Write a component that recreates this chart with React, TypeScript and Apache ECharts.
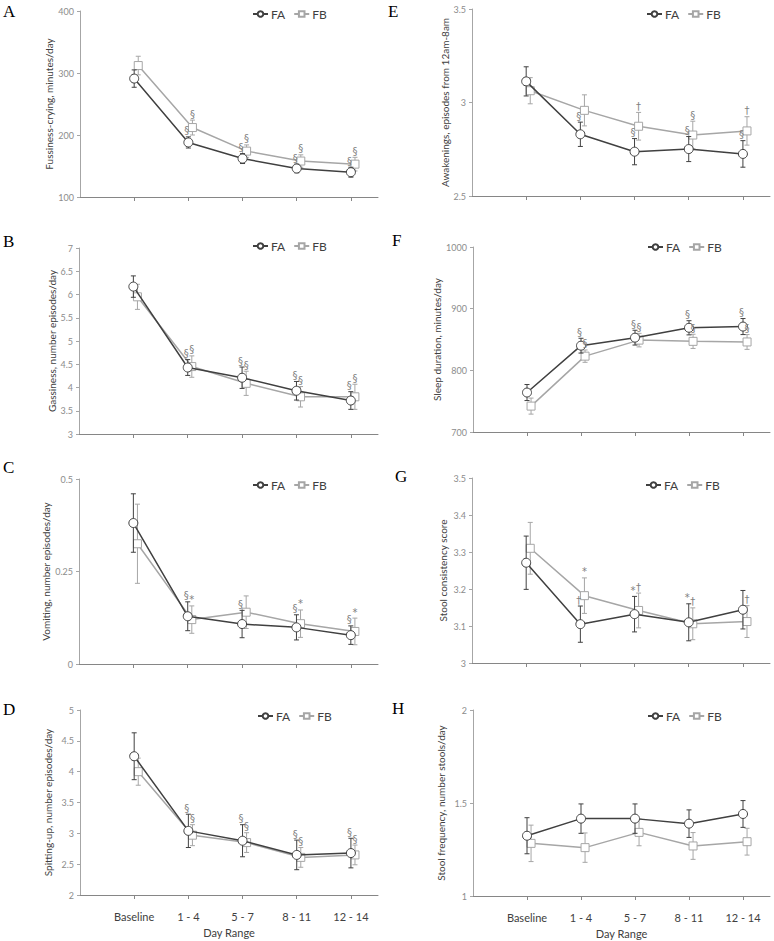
import React, { useEffect, useRef } from 'react';
import * as echarts from 'echarts';

// ---------- data ----------
const categories = ['Baseline', '1 - 4', '5 - 7', '8 - 11', '12 - 14'];
const seriesNames = ['FA', 'FB'];

// A: Fussiness-crying
const aFA = [291, 188, 162, 146, 140];
const aFAerr = [14, 9, 8, 7, 8];
const aFB = [312, 212, 174, 158, 153];
const aFBerr = [15, 12, 10, 10, 11];
const aNotes = [[1, 0, '§'], [1, 1, '§'], [2, 0, '§'], [2, 1, '§'], [3, 0, '§'], [3, 1, '§'], [4, 0, '§'], [4, 1, '§']];

// B: Gassiness
const bFA = [6.17, 4.43, 4.21, 3.93, 3.72];
const bFAerr = [0.23, 0.17, 0.23, 0.2, 0.19];
const bFB = [5.95, 4.45, 4.09, 3.8, 3.8];
const bFBerr = [0.27, 0.23, 0.26, 0.22, 0.27];
const bNotes = [[1, 0, '§'], [1, 1, '§'], [2, 0, '§'], [2, 1, '§'], [3, 0, '§'], [3, 1, '§'], [4, 0, '§'], [4, 1, '§']];

// C: Vomiting
const cFA = [0.381, 0.129, 0.108, 0.099, 0.078];
const cFAerr = [0.079, 0.039, 0.037, 0.034, 0.025];
const cFB = [0.325, 0.12, 0.14, 0.109, 0.088];
const cFBerr = [0.107, 0.037, 0.044, 0.037, 0.036];
const cNotes = [[1, 0, '§'], [1, 1, '*'], [2, 0, '§'], [3, 0, '§'], [3, 1, '*'], [4, 0, '§'], [4, 1, '*']];

// D: Spitting-up
const dFA = [4.25, 3.04, 2.88, 2.65, 2.68];
const dFAerr = [0.38, 0.27, 0.26, 0.24, 0.24];
const dFB = [4.0, 2.97, 2.85, 2.61, 2.65];
const dFBerr = [0.22, 0.17, 0.16, 0.16, 0.16];
const dNotes = [[1, 0, '§'], [1, 1, '§'], [2, 0, '§'], [2, 1, '§'], [3, 0, '§'], [3, 1, '§'], [4, 0, '§'], [4, 1, '§']];

// E: Awakenings
const eFA = [3.113, 2.83, 2.737, 2.751, 2.725];
const eFAerr = [0.078, 0.065, 0.07, 0.067, 0.071];
const eFB = [3.063, 2.958, 2.873, 2.826, 2.848];
const eFBerr = [0.07, 0.083, 0.074, 0.074, 0.076];
const eNotes = [[1, 0, '§'], [2, 0, '§'], [2, 1, '†'], [3, 0, '§'], [3, 1, '§'], [4, 0, '§'], [4, 1, '†']];

// F: Sleep duration
const fFA = [764, 840, 853, 869, 871];
const fFAerr = [13, 12, 12, 11.5, 13];
const fFB = [742, 823, 849, 847, 846];
const fFBerr = [13, 10, 11, 11.5, 12];
const fNotes = [[1, 0, '§'], [1, 1, '§'], [2, 0, '§'], [2, 1, '§'], [3, 0, '§'], [3, 1, '§'], [4, 0, '§'], [4, 1, '§']];

// G: Stool consistency
const gFA = [3.271, 3.105, 3.132, 3.11, 3.144];
const gFAerr = [0.072, 0.049, 0.048, 0.05, 0.052];
const gFB = [3.31, 3.182, 3.142, 3.106, 3.112];
const gFBerr = [0.07, 0.048, 0.047, 0.043, 0.043];
const gNotes = [[1, 0, '†'], [1, 1, '*'], [2, 0, '*'], [2, 1, '†'], [3, 0, '*'], [3, 1, '†'], [4, 1, '†']];

// H: Stool frequency
const hFA = [1.324, 1.416, 1.416, 1.389, 1.441];
const hFAerr = [0.097, 0.079, 0.079, 0.074, 0.072];
const hFB = [1.283, 1.26, 1.342, 1.269, 1.292];
const hFBerr = [0.098, 0.079, 0.072, 0.072, 0.072];
const hNotes: any[] = [];

const panels = [
  { letter: 'A', title: 'Fussiness-crying, minutes/day', min: 100, max: 400, interval: 100, fa: aFA, faErr: aFAerr, fb: aFB, fbErr: aFBerr, notes: aNotes, bottom: false },
  { letter: 'B', title: 'Gassiness, number episodes/day', min: 3, max: 7, interval: 0.5, fa: bFA, faErr: bFAerr, fb: bFB, fbErr: bFBerr, notes: bNotes, bottom: false },
  { letter: 'C', title: 'Vomiting, number episodes/day', min: 0, max: 0.5, interval: 0.25, fa: cFA, faErr: cFAerr, fb: cFB, fbErr: cFBerr, notes: cNotes, bottom: false },
  { letter: 'D', title: 'Spitting-up, number episodes/day', min: 2, max: 5, interval: 0.5, fa: dFA, faErr: dFAerr, fb: dFB, fbErr: dFBerr, notes: dNotes, bottom: true },
  { letter: 'E', title: 'Awakenings, episodes from 12am-8am', min: 2.5, max: 3.5, interval: 0.5, fa: eFA, faErr: eFAerr, fb: eFB, fbErr: eFBerr, notes: eNotes, bottom: false },
  { letter: 'F', title: 'Sleep duration, minutes/day', min: 700, max: 1000, interval: 100, fa: fFA, faErr: fFAerr, fb: fFB, fbErr: fFBerr, notes: fNotes, bottom: false },
  { letter: 'G', title: 'Stool consistency score', min: 3, max: 3.5, interval: 0.1, fa: gFA, faErr: gFAerr, fb: gFB, fbErr: gFBerr, notes: gNotes, bottom: false },
  { letter: 'H', title: 'Stool frequency, number stools/day', min: 1, max: 2, interval: 0.5, fa: hFA, faErr: hFAerr, fb: hFB, fbErr: hFBerr, notes: hNotes, bottom: true },
];

// ---------- layout (pixels) ----------
const layout = [
  { left: 80, top: 11, width: 298, height: 186, nameGap: 25, legendLeft: 252, legendY: 15, letterX: 3, letterY: 12 },
  { left: 79, top: 248, width: 299, height: 186, nameGap: 22, legendLeft: 252, legendY: 247, letterX: 3, letterY: 242 },
  { left: 79, top: 479, width: 299, height: 185, nameGap: 28, legendLeft: 252, legendY: 486, letterX: 3, letterY: 468 },
  { left: 80, top: 710, width: 298, height: 185, nameGap: 27, legendLeft: 257, legendY: 717, letterX: 3, letterY: 710 },
  { left: 472, top: 9, width: 298, height: 187, nameGap: 21, legendLeft: 646, legendY: 15, letterX: 388, letterY: 12 },
  { left: 473, top: 247, width: 297, height: 185, nameGap: 27, legendLeft: 647, legendY: 248, letterX: 392, letterY: 241 },
  { left: 472, top: 478, width: 298, height: 185, nameGap: 24, legendLeft: 645, legendY: 486, letterX: 395, letterY: 477 },
  { left: 473, top: 710, width: 297, height: 186, nameGap: 27, legendLeft: 647, legendY: 717, letterX: 392, letterY: 709 },
];

const FA_COLOR = '#404040';
const FB_COLOR = '#a6a6a6';
const NOTE_COLOR = '#808080';
const FB_SHIFT = 0.075;
const FONT = 'Lato, "Open Sans", sans-serif';

function errRender(color: string) {
  return (params: any, api: any) => {
    const x = api.value(0);
    const pLo = api.coord([x, api.value(1)]);
    const pHi = api.coord([x, api.value(2)]);
    const cap = 2.5;
    const st = { stroke: color, lineWidth: 1 };
    return {
      type: 'group',
      children: [
        { type: 'line', shape: { x1: pLo[0], y1: pLo[1], x2: pHi[0], y2: pHi[1] }, style: st },
        { type: 'line', shape: { x1: pLo[0] - cap, y1: pLo[1], x2: pLo[0] + cap, y2: pLo[1] }, style: st },
        { type: 'line', shape: { x1: pHi[0] - cap, y1: pHi[1], x2: pHi[0] + cap, y2: pHi[1] }, style: st },
      ],
    };
  };
}

function fmtNum(v: number) {
  return String(parseFloat(v.toFixed(4)));
}

function buildOption() {
  const grid: any[] = [];
  const xAxis: any[] = [];
  const yAxis: any[] = [];
  const series: any[] = [];
  const legend: any[] = [];
  const graphic: any[] = [];

  panels.forEach((p, k) => {
    const L = layout[k];
    grid.push({ left: L.left, top: L.top, width: L.width, height: L.height, containLabel: false, outerBoundsMode: 'none' });
    xAxis.push({
      type: 'value', gridIndex: k, min: 0, max: 5.5, interval: 1,
      splitLine: { show: false },
      axisLine: { show: true, onZero: false, lineStyle: { color: '#868686', width: 1 } },
      axisTick: { show: true, length: 4, customValues: [1, 2, 3, 4, 5], lineStyle: { color: '#868686' } },
      axisLabel: {
        show: p.bottom, customValues: [1, 2, 3, 4, 5], margin: 16,
        formatter: (v: number) => categories[Math.round(v) - 1] || '',
        fontSize: 11, color: '#404040', fontFamily: FONT,
      },
      name: p.bottom ? 'Day Range' : '',
      nameLocation: 'middle', nameGap: 32,
      nameTextStyle: { fontSize: 11, color: '#404040', fontFamily: FONT },
    });
    yAxis.push({
      type: 'value', gridIndex: k, min: p.min, max: p.max, interval: p.interval,
      splitLine: { show: false },
      axisLine: { show: true, lineStyle: { color: '#a6a6a6', width: 1 } },
      axisTick: { show: true, length: 3, lineStyle: { color: '#a6a6a6' } },
      axisLabel: { fontSize: 9, color: '#8c8c8c', margin: 6, fontFamily: FONT, formatter: fmtNum },
      name: p.title, nameLocation: 'middle', nameGap: L.nameGap,
      nameTextStyle: { fontSize: 10, color: '#404040', fontFamily: FONT },
    });

    const faPts = p.fa.map((v, i) => [i + 1, v]);
    const fbPts = p.fb.map((v, i) => [i + 1 + FB_SHIFT, v]);
    const faErr = p.fa.map((v, i) => [i + 1, v - p.faErr[i], v + p.faErr[i]]);
    const fbErr = p.fb.map((v, i) => [i + 1 + FB_SHIFT, v - p.fbErr[i], v + p.fbErr[i]]);

    series.push({
      type: 'custom', xAxisIndex: k, yAxisIndex: k, z: 1, silent: true, color: FB_COLOR,
      itemStyle: { color: FB_COLOR },
      renderItem: errRender(FB_COLOR), data: fbErr, encode: { x: 0, y: [1, 2] },
    });
    series.push({
      name: 'FB', type: 'line', xAxisIndex: k, yAxisIndex: k, z: 2, data: fbPts,
      symbol: 'rect', symbolSize: 8, showSymbol: true, color: FB_COLOR,
      lineStyle: { color: FB_COLOR, width: 1.5 },
      itemStyle: { color: '#ffffff', borderColor: FB_COLOR, borderWidth: 1 },
    });
    series.push({
      type: 'custom', xAxisIndex: k, yAxisIndex: k, z: 3, silent: true, color: FA_COLOR,
      itemStyle: { color: FA_COLOR },
      renderItem: errRender(FA_COLOR), data: faErr, encode: { x: 0, y: [1, 2] },
    });
    series.push({
      name: 'FA', type: 'line', xAxisIndex: k, yAxisIndex: k, z: 4, data: faPts,
      symbol: 'circle', symbolSize: 9, showSymbol: true, color: FA_COLOR,
      lineStyle: { color: FA_COLOR, width: 1.5 },
      itemStyle: { color: '#ffffff', borderColor: FA_COLOR, borderWidth: 1 },
    });

    // annotations above the error bars
    const notes = p.notes as any[];
    const noteData = notes.map((n) => {
      const i = n[0];
      const s = n[1];
      return s === 0
        ? [i + 1, p.fa[i] + p.faErr[i], s]
        : [i + 1 + FB_SHIFT, p.fb[i] + p.fbErr[i], s];
    });
    series.push({
      type: 'custom', xAxisIndex: k, yAxisIndex: k, z: 5, silent: true,
      color: NOTE_COLOR, itemStyle: { color: NOTE_COLOR },
      data: noteData, encode: { x: 0, y: 1 },
      renderItem: (params: any, api: any) => {
        const pt = api.coord([api.value(0), api.value(1)]);
        const s = api.value(2);
        return {
          type: 'text', x: pt[0] + (s === 0 ? -1.5 : 0), y: pt[1] - 1,
          style: {
            text: notes[params.dataIndex][2], fill: NOTE_COLOR, fontSize: 10,
            fontFamily: '"DejaVu Sans", sans-serif', align: 'center', verticalAlign: 'bottom',
          },
        };
      },
    });

    legend.push({
      left: L.legendLeft, top: L.legendY - 7, padding: 0,
      data: seriesNames, itemWidth: 15, itemHeight: 7, itemGap: 8,
      selectedMode: false,
      textStyle: { fontSize: 12, color: '#404040', fontFamily: FONT, padding: [0, 0, 0, -2] },
    });

    graphic.push({
      type: 'text', left: L.letterX, top: L.letterY - 9,
      style: { text: p.letter, fontSize: 17, fill: '#000', fontFamily: '"Liberation Serif", "DejaVu Serif", serif' },
    });
  });

  return { animation: false, backgroundColor: '#ffffff', grid, xAxis, yAxis, series, legend, graphic };
}

export default function App() {
  const ref = useRef<HTMLDivElement>(null);
  useEffect(() => {
    document.body.style.margin = '0';
    if (!ref.current) return;
    const chart = echarts.init(ref.current, undefined, { renderer: 'svg' });
    chart.setOption(buildOption() as any);
    return () => chart.dispose();
  }, []);
  return <div ref={ref} style={{ width: 774, height: 941 }} />;
}
